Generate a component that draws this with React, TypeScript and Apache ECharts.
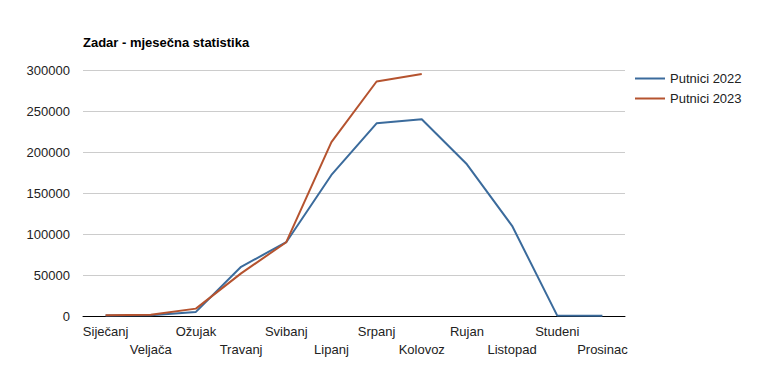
import React, { useEffect, useRef } from "react";
import * as echarts from "echarts";

const months = ["Siječanj", "Veljača", "Ožujak", "Travanj", "Svibanj", "Lipanj", "Srpanj", "Kolovoz", "Rujan", "Listopad", "Studeni", "Prosinac"];
const putnici2022 = [500, 800, 5000, 60000, 90000, 172000, 235000, 240000, 185000, 110000, 500, 300];
const putnici2023 = [1000, 1500, 9000, 52000, 90000, 212000, 286000, 295000];
const yTicks = [0, 50000, 100000, 150000, 200000, 250000, 300000];

export default function App() {
  const ref = useRef<HTMLDivElement>(null);
  useEffect(() => {
    if (!ref.current) return;
    const chart = echarts.init(ref.current, undefined, { renderer: "svg" });
    const font = "Arial, 'Liberation Sans', sans-serif";
    chart.setOption({
      animation: false,
      textStyle: { fontFamily: font },
      title: {
        text: "Zadar - mjesečna statistika",
        left: 78,
        top: 31,
        textStyle: { fontSize: 13, fontWeight: "bold", color: "#000", fontFamily: font },
      },
      legend: {
        orient: "vertical",
        left: 630,
        top: 67,
        itemWidth: 30,
        itemHeight: 2,
        itemGap: 7,
        icon: "rect",
        textStyle: { fontSize: 13, color: "#222", fontFamily: font },
        data: ["Putnici 2022", "Putnici 2023"],
      },
      grid: { left: 83, right: 155, top: 70, bottom: 61, containLabel: false },
      xAxis: {
        type: "category",
        data: months,
        boundaryGap: true,
        axisLine: { lineStyle: { color: "#000", width: 1 } },
        axisTick: { show: false },
        axisLabel: {
          interval: 0,
          fontSize: 13,
          color: "#222",
          lineHeight: 18,
          margin: 6,
          formatter: (v: string, i: number) => (i % 2 ? "\n" + v : v),
        },
      },
      yAxis: {
        type: "value",
        min: yTicks[0],
        max: yTicks[yTicks.length - 1],
        interval: 50000,
        axisLine: { show: false },
        axisTick: { show: false },
        axisLabel: { fontSize: 13, color: "#222", margin: 13, formatter: (v: number) => String(v) },
        splitLine: { lineStyle: { color: "#cccccc", width: 1 } },
      },
      series: [
        {
          name: "Putnici 2022",
          type: "line",
          data: putnici2022,
          symbol: "none",
          color: "#3b6b9c",
          lineStyle: { width: 2, color: "#3b6b9c" },
        },
        {
          name: "Putnici 2023",
          type: "line",
          data: putnici2023,
          symbol: "none",
          color: "#b5532f",
          lineStyle: { width: 2, color: "#b5532f" },
        },
      ],
    });
    return () => chart.dispose();
  }, []);
  return <div ref={ref} style={{ width: 780, height: 377, position: "absolute", left: 0, top: 0 }} />;
}
